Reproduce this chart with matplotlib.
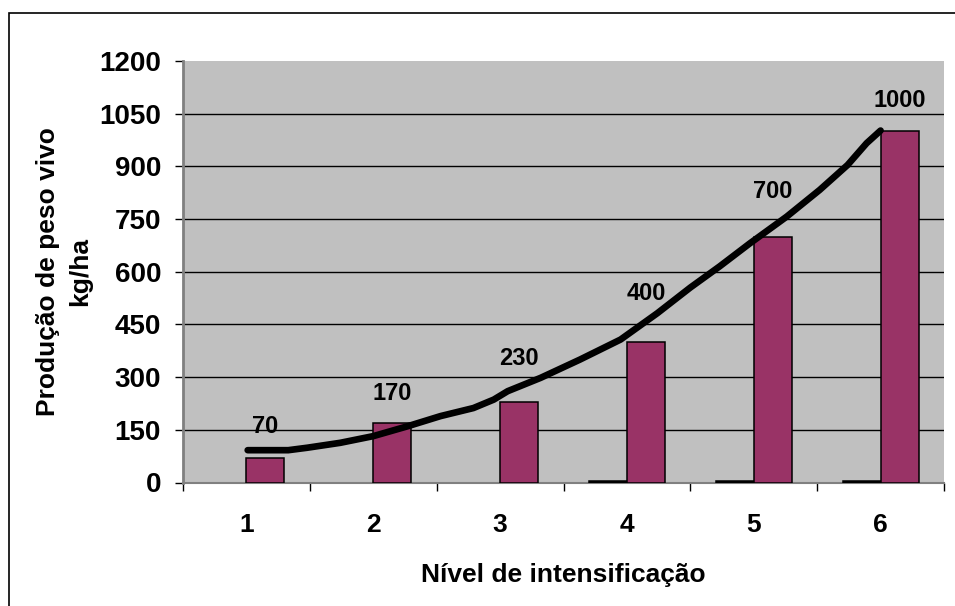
import matplotlib
matplotlib.use("Agg")
import matplotlib.pyplot as plt
import numpy as np
from matplotlib.patches import Rectangle

# Data
niveis = [1, 2, 3, 4, 5, 6]
producao = [70, 170, 230, 400, 700, 1000]
serie_base = [np.nan, np.nan, np.nan, 5, 5, 5]
tendencia_x = [1.01, 1.33, 1.48, 1.74, 2.00, 2.27, 2.53, 2.79, 2.95, 3.06, 3.32,
               3.63, 3.95, 4.24, 4.50, 4.73, 4.97, 5.26, 5.52, 5.74, 5.89, 6.00]
tendencia_y = [92, 92, 99, 113, 132, 160, 189, 212, 236, 260, 298,
               350, 407, 482, 555, 615, 681, 757, 833, 904, 966, 1002]
y_ticks = [0, 150, 300, 450, 600, 750, 900, 1050, 1200]

plt.rcParams['font.family'] = ['Liberation Sans', 'DejaVu Sans']
plt.rcParams['font.weight'] = 'bold'

W, H = 955, 606
fig = plt.figure(figsize=(W / 100, H / 100), dpi=100)
ax = fig.add_axes([183 / W, 1 - 482.5 / H, (944 - 183) / W, (482.5 - 61) / H])
ax.set_facecolor('#C0C0C0')

# outer chart border (top and left visible)
fig.patches.append(Rectangle((8.5 / W, -0.2), 1.5, (1 - 13 / H) + 0.2,
                             transform=fig.transFigure, fill=False,
                             edgecolor='black', linewidth=1.2, zorder=0))

bw = 0.3
ax.bar([n - bw / 2 for n in niveis], serie_base, width=bw, color='black',
       edgecolor='black', linewidth=1.1, zorder=3)
bars = ax.bar([n + bw / 2 for n in niveis], producao, width=bw, color='#993366',
              edgecolor='black', linewidth=1.1, zorder=3)

# vertical gap (points) between each bar top and its value label
label_gap = [14, 13, 23, 27, 24, 14]
for b, v, g in zip(bars, producao, label_gap):
    ax.annotate(f"{v}", (b.get_x() + b.get_width() / 2, v),
                xytext=(0, g), textcoords='offset points',
                ha='center', va='bottom', fontsize=17, fontweight='bold')

ax.plot(tendencia_x, tendencia_y, color='black', linewidth=4.8,
        solid_capstyle='round', solid_joinstyle='round', zorder=4)

ax.set_xlim(0.5, 6.5)
ax.set_ylim(0, 1200)
ax.set_yticks(y_ticks)
ax.set_yticklabels([str(t) for t in y_ticks])
ax.set_xticks(niveis)
ax.set_xticklabels([str(n) for n in niveis])
ax.set_xticks([n + 0.5 for n in range(0, 7)], minor=True)

for t in y_ticks[1:-1]:
    ax.axhline(t, color='black', linewidth=1.0, zorder=1)

for s in ['top', 'right']:
    ax.spines[s].set_visible(False)
ax.spines['left'].set_color('#808080')
ax.spines['left'].set_linewidth(2.0)
ax.spines['bottom'].set_color('#808080')
ax.spines['bottom'].set_linewidth(1.5)

ax.tick_params(axis='y', direction='out', length=5.8, width=1.0, color='black',
               pad=10, labelsize=20)
ax.tick_params(axis='x', which='major', length=0, pad=22, labelsize=19)
ax.tick_params(axis='x', which='minor', direction='out', length=5.8, width=1.0,
               color='black')
for lbl in ax.get_xticklabels() + ax.get_yticklabels():
    lbl.set_fontweight('bold')

ax.set_xlabel('Nível de intensificação', fontsize=19, fontweight='bold', labelpad=19)
ax.set_ylabel('Produção de peso vivo\nkg/ha', fontsize=19, fontweight='bold',
              linespacing=1.4)
ax.yaxis.set_label_coords(-0.12, 0.5)

fig.savefig('out.png', dpi=100)
